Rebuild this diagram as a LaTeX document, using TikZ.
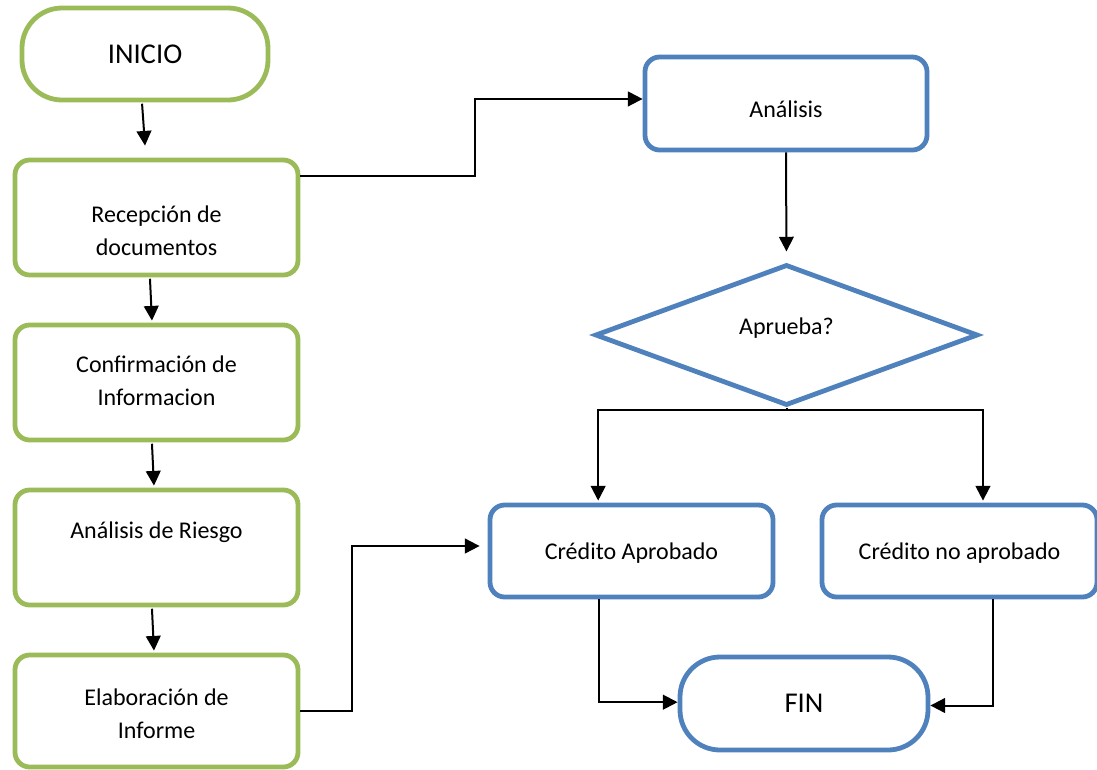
\documentclass[tikz,border=0pt]{standalone}
\usepackage{fontspec}
\setmainfont{Carlito}
\usetikzlibrary{arrows.meta,shapes.geometric}
\definecolor{gborder}{HTML}{9BBB59}
\definecolor{bborder}{HTML}{4F81BD}
\tikzset{
  box/.style={draw, rectangle, rounded corners=11pt, line width=3.6pt, align=center,
    inner sep=0pt, font=\fontsize{18}{24.75}\selectfont},
  gbox/.style={box, draw=gborder, minimum width=283*0.75pt, minimum height=115*0.75pt},
  bbox/.style={box, draw=bborder},
  term/.style={draw, rectangle, rounded corners=30pt, line width=3.6pt, inner sep=0pt,
    font=\fontsize{21.5}{25}\selectfont},
  arr/.style={line width=1.5pt, -{Triangle[length=11pt,width=11pt]}},
  conn/.style={line width=1.5pt}
}
\newcommand{\shifted}[2]{\raisebox{#1}[\height][\depth]{#2}}
\newcommand{\twolines}[3]{\shifted{#1}{\begin{tabular}{@{}c@{}}#2\\#3\end{tabular}}}
\begin{document}
\begin{tikzpicture}[x=0.75pt,y=-0.75pt]
\useasboundingbox (0,0) rectangle (1097,769);
% left column
\node[term, draw=gborder, minimum width=246*0.75pt, minimum height=92*0.75pt] (inicio) at (145,54) {INICIO};
\node[gbox] (rec) at (156.5,217.5) {\twolines{-11pt}{Recepción de}{documentos}};
\node[gbox] (conf) at (156.5,382.5) {\twolines{0pt}{Confirmación de}{Informacion}};
\node[gbox] (riesgo) at (156.5,547.5) {\twolines{-1pt}{Análisis de Riesgo}{~}};
\node[gbox, minimum height=112*0.75pt] (elab) at (156.5,711) {\twolines{-3pt}{Elaboración de}{Informe}};
% right column
\node[bbox, minimum width=282*0.75pt, minimum height=93*0.75pt] (anal) at (786,103.5) {\shifted{-4.5pt}{Análisis}};
\node[diamond, draw=bborder, line width=3.6pt, inner sep=0pt, aspect=2.7,
  minimum width=383*0.75pt, minimum height=141*0.75pt,
  font=\fontsize{18}{22}\selectfont] (dia) at (786.5,335) {\shifted{5pt}{Aprueba?}};
\node[bbox, minimum width=283*0.75pt, minimum height=92*0.75pt] (apr) at (631.5,551) {\shifted{-1.5pt}{Crédito Aprobado}};
\node[bbox, minimum width=275*0.75pt, minimum height=92*0.75pt] (noapr) at (959.5,551) {\shifted{-1.5pt}{Crédito no aprobado}};
\node[term, draw=bborder, minimum width=248*0.75pt, minimum height=93*0.75pt] (fin) at (804,703.5) {FIN};
% connectors left column
\draw[arr] ([xshift=-2.2pt,yshift=-1pt]inicio.south) -- ([xshift=-8.6pt,yshift=9pt]rec.north);
\draw[arr] ([xshift=-4.9pt,yshift=-1pt]rec.south) -- ([xshift=-3.4pt,yshift=1.5pt]conf.north);
\draw[arr] ([xshift=-3.4pt,yshift=-1pt]conf.south) -- ([xshift=-1.9pt,yshift=1.5pt]riesgo.north);
\draw[arr] ([xshift=-3.4pt,yshift=-1pt]riesgo.south) -- ([xshift=-1.9pt,yshift=1.5pt]elab.north);
% to Análisis
\draw[arr] ([yshift=31pt]rec.east) -- ++(175,0) |- ([yshift=3.4pt]anal.west);
\draw[arr, shorten >=8pt] (anal.south) -- (dia.north);
% diamond branches
\draw[conn] (dia.south) -- ++(0,2) coordinate (split);
\draw[arr] (split) -| ([xshift=-25pt,yshift=1.5pt]apr.north);
\draw[arr] (split) -| ([xshift=17.6pt,yshift=1.5pt]noapr.north);
% Elaboración to Crédito Aprobado
\draw[arr, shorten >=6pt] (elab.east) -- ++(52,0) |- ([yshift=3.75pt]apr.west);
% to FIN
\draw[arr] ([xshift=-24.4pt]apr.south) |- ([yshift=1pt]fin.west);
\draw[arr] ([xshift=25.1pt]noapr.south) |- ([yshift=-1.5pt]fin.east);
\end{tikzpicture}
\end{document}
